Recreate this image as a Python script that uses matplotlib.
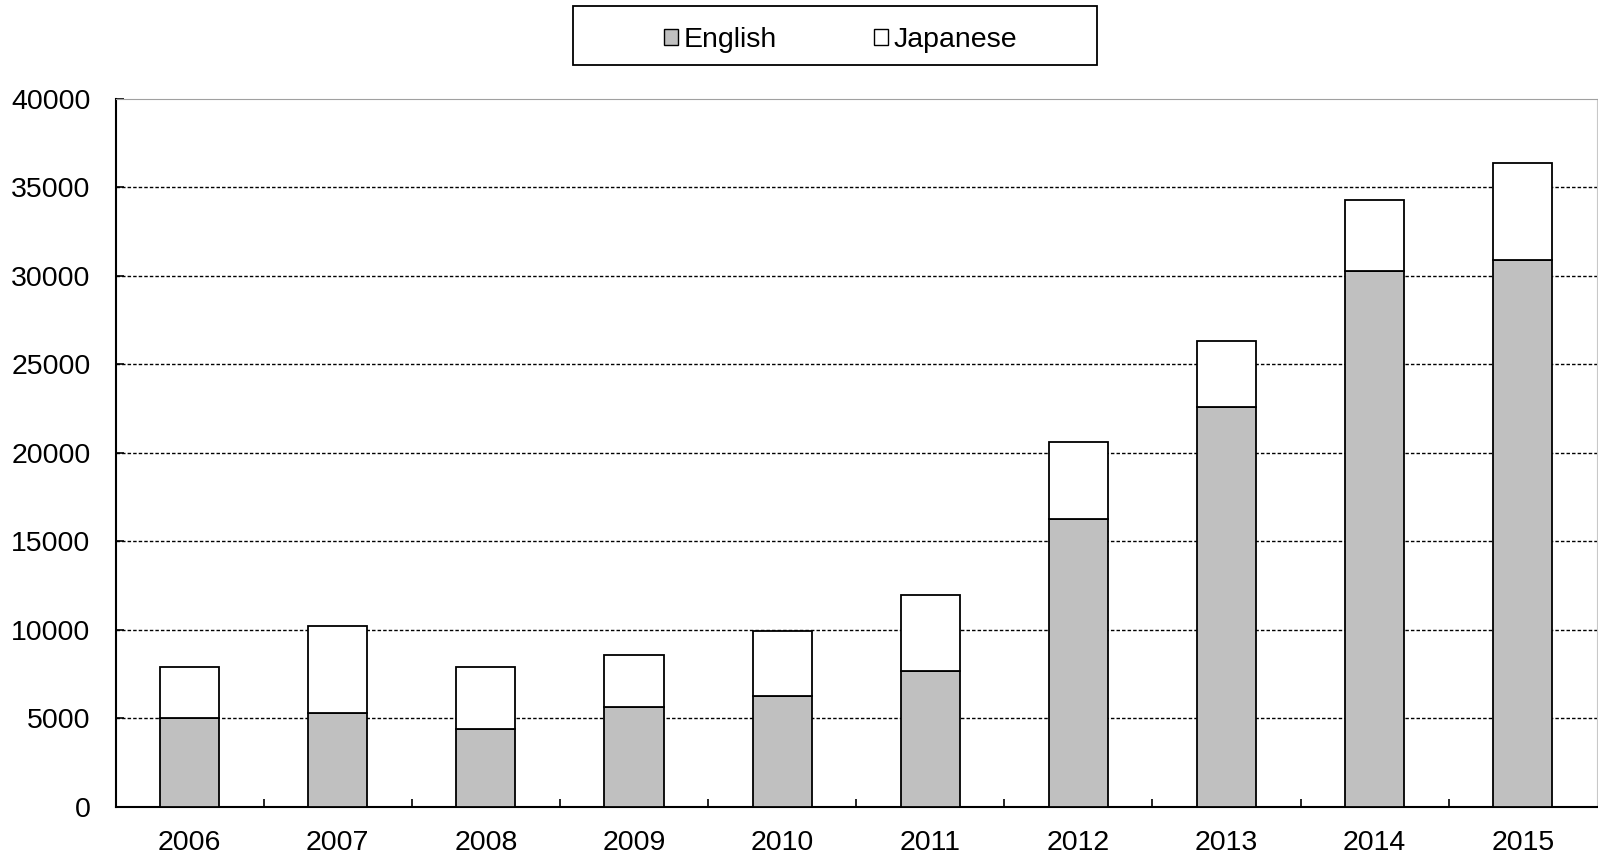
import numpy as np
import matplotlib
matplotlib.use("Agg")
import matplotlib.pyplot as plt
from matplotlib.patches import Rectangle, Patch
from matplotlib.ticker import MultipleLocator, FixedLocator

plt.rcParams['font.family'] = ['Liberation Sans', 'DejaVu Sans']

years = ['2006', '2007', '2008', '2009', '2010', '2011', '2012', '2013', '2014', '2015']
english = [5000, 5300, 4400, 5650, 6250, 7650, 16250, 22600, 30250, 30900]
japanese = [2900, 4900, 3500, 2900, 3700, 4300, 4350, 3700, 4050, 5500]

fig = plt.figure(figsize=(15.98, 8.57), dpi=100)
ax = fig.add_axes([0.0723, 0.0589, 0.9270, 0.8256])

x = np.arange(len(years))
ax.bar(x, english, width=0.4, color='#c0c0c0', edgecolor='black', linewidth=1.3,
       label='English', zorder=3)
ax.bar(x, japanese, width=0.4, bottom=english, color='white', edgecolor='black',
       linewidth=1.3, label='Japanese', zorder=3)

ax.set_xlim(-0.5, len(years) - 0.5)
ax.set_ylim(0, 40000)
ax.yaxis.set_major_locator(MultipleLocator(5000))

# dashed grid lines across the plot
for v in range(5000, 40000, 5000):
    ax.axhline(v, color='black', linewidth=1.0, linestyle=(0, (2.5, 1.5)), zorder=1)

ax.set_xticks(x)
ax.set_xticklabels(years)
ax.xaxis.set_minor_locator(FixedLocator(np.arange(0.5, len(years) - 0.5, 1)))
ax.tick_params(axis='x', which='major', length=0, pad=17, labelsize=20.5)
ax.tick_params(axis='x', which='minor', direction='in', length=6, width=1.2)
ax.tick_params(axis='y', direction='in', length=6, width=1.2, pad=18, labelsize=20.5)

ax.spines['left'].set_linewidth(1.5)
ax.spines['bottom'].set_linewidth(1.5)
ax.spines['top'].set_color('#a0a0a0')
ax.spines['right'].set_color('#c8c8c8')

# legend box on top
fig.patches.append(Rectangle((573 / 1598, 1 - 65 / 857), 524 / 1598, 59 / 857,
                             transform=fig.transFigure, facecolor='white',
                             edgecolor='black', linewidth=1.3))
handles = [Patch(facecolor='#c0c0c0', edgecolor='black', linewidth=1.0, label='English'),
           Patch(facecolor='white', edgecolor='black', linewidth=1.0, label='Japanese')]
fig.legend(handles=handles, loc='center', bbox_to_anchor=(0.5262, 0.9535), ncol=2,
           frameon=False, fontsize=20.5, handlelength=0.5, handleheight=0.5,
           handletextpad=0.2, columnspacing=3.4)

fig.savefig('out.png', dpi=100)
